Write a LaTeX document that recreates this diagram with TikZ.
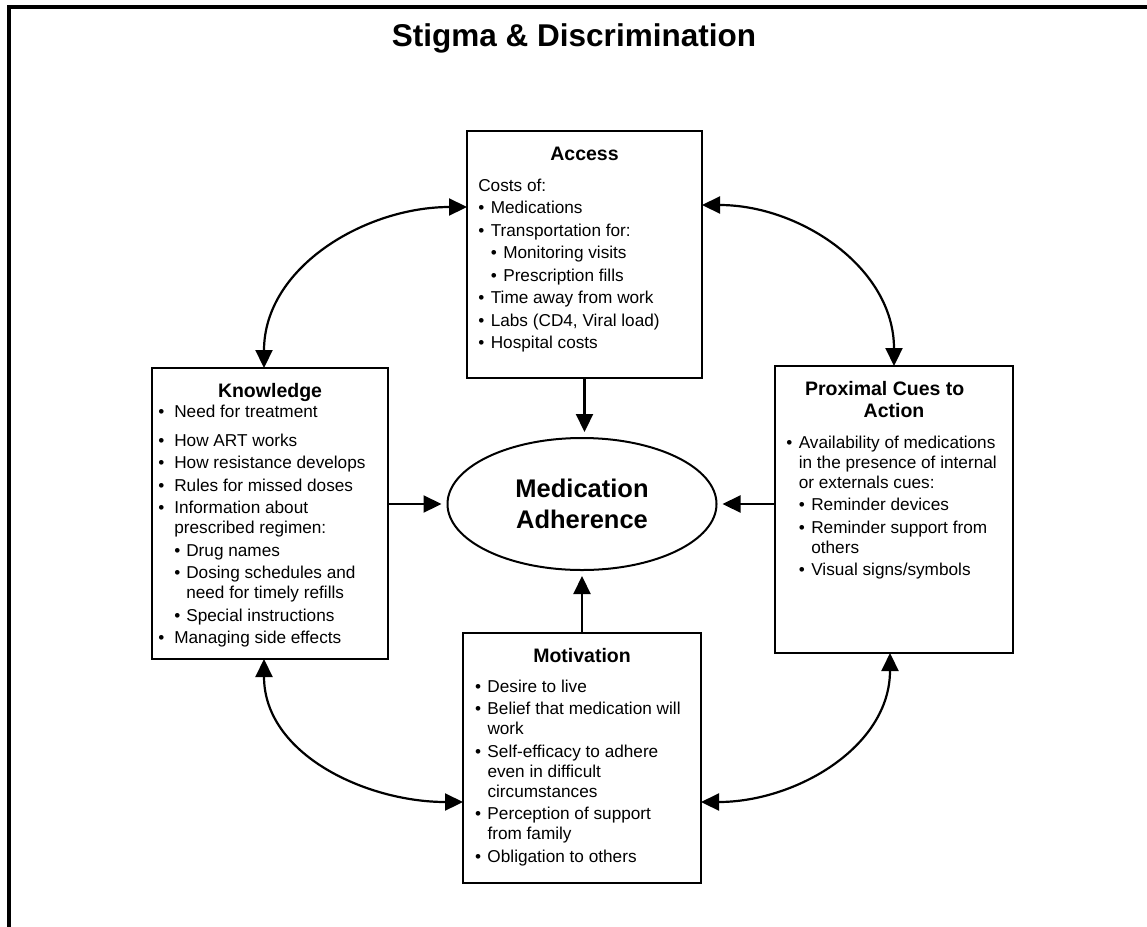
\documentclass[tikz,border=0pt]{standalone}
\usepackage{fontspec}
\setmainfont{Liberation Sans}
\usetikzlibrary{arrows.meta, shapes.geometric}

\newlength{\bulwd}
\newlength{\subwd}
\setlength{\bulwd}{12.5pt}
\setlength{\subwd}{12.5pt}
\newcommand{\bul}[1]{\par\hangindent=\bulwd\hangafter=1\noindent\makebox[\bulwd][l]{\textbullet}#1}
\newcommand{\subbul}[1]{\par\hangindent=\dimexpr\bulwd+\subwd\relax\hangafter=1\noindent\hspace*{\bulwd}\makebox[\subwd][l]{\textbullet}#1}
\newcommand{\cardtitle}[2][8pt]{{\centering\fontsize{19.5}{22}\selectfont\bfseries\rule{0pt}{29pt}#2\par}\vspace{#1}\raggedright\fontsize{17.2}{20}\selectfont\setlength{\parskip}{2.5pt}}

\begin{document}
\begin{tikzpicture}[
  x=1pt, y=-1pt,
  card/.style={draw, line width=2.3pt, anchor=north west, outer sep=0pt, inner ysep=0pt, inner xsep=#1},
  card/.default=11.3pt,
  conn/.style={-{Triangle[length=18pt,width=17pt]}, line width=2.2pt, shorten >=5pt},
  link/.style={{Triangle[length=18pt,width=17pt]}-{Triangle[length=18pt,width=17pt]}, line width=2.2pt},
]
  \useasboundingbox (0,0) rectangle (1147,926);
  \clip (0,0) rectangle (1147,926);
  \draw[line width=3.2pt] (9,7) rectangle (1200,980);

  \node[font=\fontsize{31.5}{37}\selectfont\bfseries] (ttl) at (574,38) {Stigma \& Discrimination};

  \node[card] (access) at (467,131) {\parbox[t][247pt][t]{212.4pt}{%
    \cardtitle[8.5pt]{Access}
    \par\noindent Costs of:
    \bul{Medications}
    \bul{Transportation for:}
    \subbul{Monitoring visits}
    \subbul{Prescription fills}
    \bul{Time away from work}
    \bul{Labs (CD4, Viral load)}
    \bul{Hospital costs}}};

  \node[card=6.3pt] (know) at (152,368) {\parbox[t][291pt][t]{223.4pt}{%
    \setlength{\bulwd}{16pt}\setlength{\subwd}{12pt}%
    \cardtitle[-1.8pt]{Knowledge}
    \bul{Need for treatment}\par\vspace{5.8pt}
    \bul{How ART works}
    \bul{How resistance develops}
    \bul{Rules for missed doses}
    \bul{Information about\newline prescribed regimen:}
    \subbul{Drug names}
    \subbul{Dosing schedules and\newline need for timely refills}
    \subbul{Special instructions}
    \bul{Managing side effects}}};

  \node[card] (prox) at (775,366) {\parbox[t][287pt][t]{215.4pt}{%
    \cardtitle[8.5pt]{Proximal Cues to\newline Action}
    \bul{Availability of medications\newline in the presence of internal\newline or externals cues:}
    \subbul{Reminder devices}
    \subbul{Reminder support from\newline others}
    \subbul{Visual signs/symbols}}};

  \node[card=12pt] (motiv) at (463,633) {\parbox[t][250pt][t]{214pt}{%
    \cardtitle[7.5pt]{Motivation}
    \bul{Desire to live}
    \bul{Belief that medication will\newline work}
    \bul{Self-efficacy to adhere\newline even in difficult\newline circumstances}
    \bul{Perception of support\newline from family}
    \bul{Obligation to others}}};

  \node[ellipse, draw, line width=2pt, minimum width=269pt, minimum height=132pt, inner sep=0pt, align=center, font=\fontsize{25.5}{31}\selectfont\bfseries] (adh) at (582,504) {Medication\\Adherence};

  \draw[conn] (access.south) -- (access.south |- adh.north);
  \draw[conn] (motiv.north) -- (motiv.north |- adh.south);
  \draw[conn] (adh.west -| know.east) -- (adh.west);
  \draw[conn] (adh.east -| prox.west) -- (adh.east);

  \draw[link] ([xshift=-6pt]know.north) to[out=90, in=180] ([yshift=47.5pt]access.west);
  \draw[link] (prox.north) to[out=90, in=0] ([yshift=49.5pt]access.east);
  \draw[link] ([xshift=-6pt]know.south) to[out=-90, in=180] ([yshift=-44pt]motiv.west);
  \draw[link] ([xshift=-4pt]prox.south) to[out=-90, in=0] ([yshift=-44pt]motiv.east);
\end{tikzpicture}
\end{document}
